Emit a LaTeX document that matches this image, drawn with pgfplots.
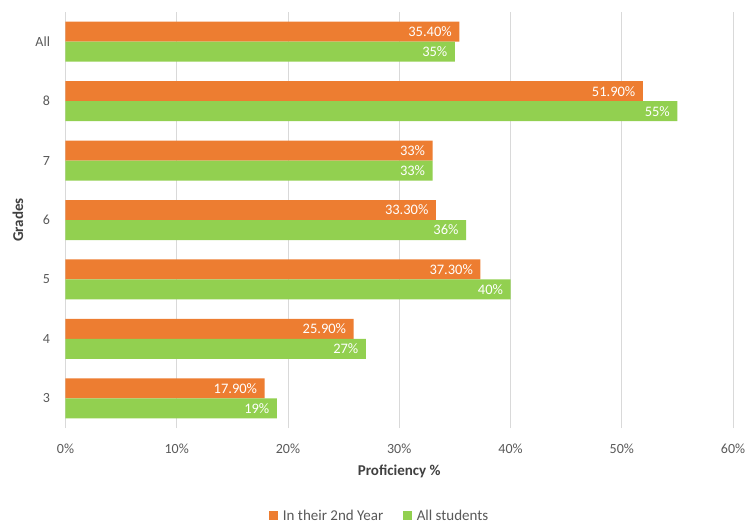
\documentclass[border=0pt]{standalone}
\usepackage{pgfplots}
\pgfplotsset{compat=1.18}
\usepackage{pgfplotstable}
\usepackage{fontspec}
\setmainfont{Carlito}
\definecolor{cOrange}{HTML}{ED7D31}
\definecolor{cGreen}{HTML}{92D050}
\definecolor{cGrid}{HTML}{D9D9D9}
\definecolor{cTick}{HTML}{595959}
\definecolor{cLab}{HTML}{404040}
\pgfplotstableread{
y val lab
0 17.9 17.90\%
1 25.9 25.90\%
2 37.3 37.30\%
3 33.3 33.30\%
4 33.0 33\%
5 51.9 51.90\%
6 35.4 35.40\%
}\orange
\pgfplotstableread{
y val lab
0 19 19\%
1 27 27\%
2 40 40\%
3 36 36\%
4 33 33\%
5 55 55\%
6 35 35\%
}\green
\begin{document}
\begin{tikzpicture}
\useasboundingbox (-65.5pt,-95pt) rectangle (683.5pt,428pt);
\begin{axis}[
  at={(0,0)}, anchor=south west,
  scale only axis, width=667.5pt, height=416pt,
  xmin=0, xmax=60, ymin=-0.5, ymax=6.5,
  xtick={0,10,20,30,40,50,60},
  xticklabels={0\%,10\%,20\%,30\%,40\%,50\%,60\%},
  ytick={0,1,2,3,4,5,6},
  yticklabels={3,4,5,6,7,8,All},
  xmajorgrids, major grid style={cGrid, line width=0.9pt},
  axis line style={draw=none},
  major tick length=0pt,
  tick label style={font=\fontsize{14}{16}\selectfont, text=cTick},
  xticklabel style={anchor=center, yshift=-21pt},
  yticklabel style={anchor=east, xshift=-12pt},
  xlabel={\textbf{Proficiency \%}},
  ylabel={\textbf{Grades}},
  label style={font=\fontsize{15}{17}\selectfont, text=cLab},
  x label style={at={(axis description cs:0.5,-0.1034)}, anchor=center},
  y label style={at={(axis description cs:-0.0712,0.5)}, anchor=center},
  xbar, bar width=20pt,
  nodes near coords,
  point meta=explicit symbolic,
  every node near coord/.append style={font=\fontsize{14.5}{16}\selectfont, text=white, anchor=east, xshift=-4pt},
  legend style={at={(axis description cs:0.471,-0.2115)}, anchor=center, draw=none, legend columns=2,
     font=\fontsize{15}{17}\selectfont, text=cTick, /tikz/every even column/.append style={column sep=18pt}},
  legend image code/.code={\fill[#1] (0pt,-4.5pt) rectangle (9pt,4.5pt); \path (11.5pt,0pt);},
]
\addplot[fill=cOrange, draw=none, bar shift=10pt] table[x=val, y=y, meta=lab] {\orange};
\addplot[fill=cGreen, draw=none, bar shift=-10pt] table[x=val, y=y, meta=lab] {\green};
\legend{In their 2nd Year, All students}
\end{axis}
\end{tikzpicture}
\end{document}
